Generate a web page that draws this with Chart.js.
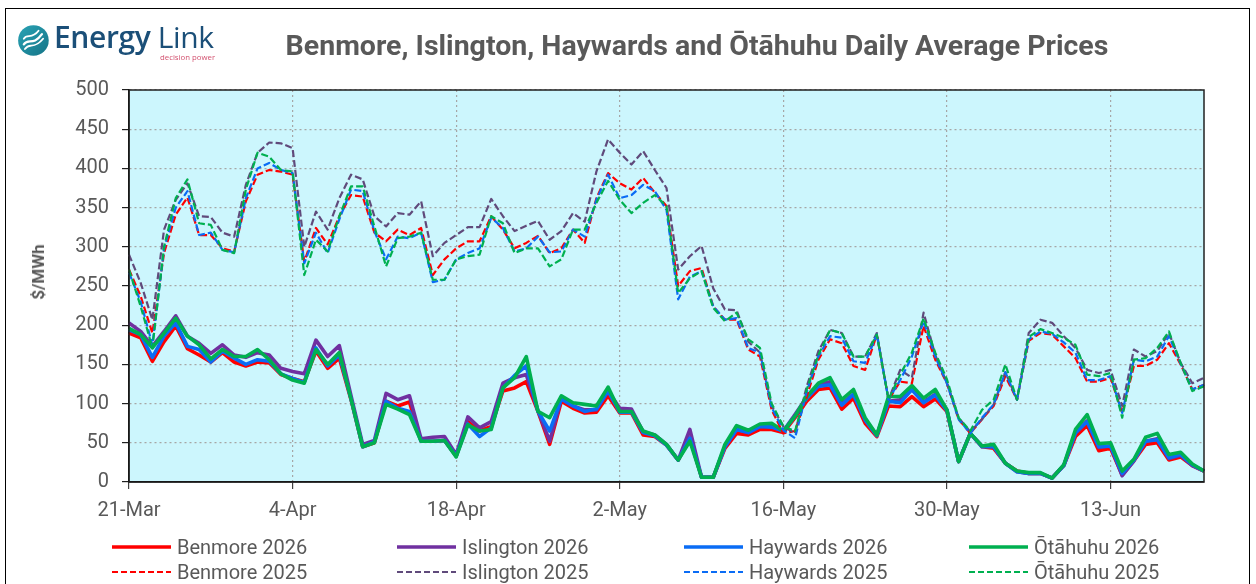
<!DOCTYPE html>
<html>
<head>
<meta charset="utf-8">
<script src="https://cdn.jsdelivr.net/npm/chart.js@4.4.1/dist/chart.umd.min.js"></script>
<style>
  html, body { margin: 0; padding: 0; background: #fff; }
  #wrap { position: relative; width: 1256px; height: 584px; overflow: hidden; font-family: Roboto, "Liberation Sans", sans-serif; }
  #frame { position: absolute; left: 5px; top: 8px; width: 1245px; height: 600px; border: 1.5px solid #000; box-sizing: border-box; }
  canvas { position: absolute; left: 0; top: 0; }
  #title { position: absolute; left: 697px; top: 32px; transform: translateX(-50%); white-space: nowrap;
           font-size: 28.5px; line-height: 28px; font-weight: bold; color: #595959; }
  #ylabel { position: absolute; left: 38px; top: 272px; transform: translate(-50%, -50%) rotate(-90deg);
            font-size: 17px; font-weight: bold; color: #595959; white-space: nowrap; }
  #logo { position: absolute; left: 17px; top: 24px; }
  #logoText { position: absolute; left: 54px; top: 22px; font-family: "Open Sans", sans-serif; font-size: 30px; line-height: 30px;
              color: #1b4f78; white-space: nowrap; letter-spacing: -0.4px; }
  #logoText b { font-weight: 600; }
  #logoSub { position: absolute; left: 160px; top: 52px; font-family: "Open Sans", sans-serif; font-size: 7.8px; color: #d2506e; white-space: nowrap; }
  .leg { position: absolute; height: 24px; display: flex; align-items: center; font-size: 20px; color: #595959; white-space: nowrap; }
  .leg svg { margin-right: 6px; }
</style>
</head>
<body>
<div id="wrap">
  <div id="frame"></div>
  <canvas id="priceChart" width="1256" height="584"></canvas>
  <svg id="logo" width="34" height="34" viewBox="0 0 30 30">
    <defs>
      <linearGradient id="lg" x1="0" y1="0" x2="1" y2="1">
        <stop offset="0" stop-color="#2aa3b5"/>
        <stop offset="1" stop-color="#157487"/>
      </linearGradient>
    </defs>
    <circle cx="14.5" cy="14.5" r="13.5" fill="url(#lg)"/>
    <path d="M6 18 C10 12, 14 20, 22 9" stroke="#fff" stroke-width="2" fill="none" stroke-linecap="round"/>
    <path d="M7 22 C11 16, 15 23, 23 13" stroke="#fff" stroke-width="1.6" fill="none" stroke-linecap="round"/>
    <path d="M6 13 C9 8, 13 14, 19 6" stroke="#fff" stroke-width="1.6" fill="none" stroke-linecap="round"/>
  </svg>
  <div id="logoText"><b>Energy</b> Link</div>
  <div id="logoSub">decision power</div>
  <div id="title">Benmore, Islington, Haywards and Ōtāhuhu Daily Average Prices</div>
  <div id="ylabel">$/MWh</div>
  <div id="legend"></div>
</div>
<script>
// daily average prices, $/MWh, 21-Mar .. 21-Jun
const benmore2026 = [190, 184, 154, 179, 199, 170, 162, 153, 165, 153, 148, 153, 152, 137, 132, 128, 167, 145, 158, 105,
  45, 50, 103, 97, 102, 52, 52, 53, 33, 77, 65, 71, 116, 120, 128, 90, 48, 103, 94, 88,
  89, 110, 88, 88, 60, 58, 47, 28, 56, 6, 6, 43, 62, 60, 67, 67, 63, 82, 103, 118,
  120, 93, 107, 75, 58, 97, 96, 109, 96, 106, 90, 26, 62, 45, 43, 24, 14, 11, 11, 5,
  21, 58, 72, 40, 43, 9, 27, 48, 50, 28, 32, 21, 14];
const islington2026 = [203, 192, 173, 192, 212, 186, 177, 164, 175, 162, 159, 165, 162, 145, 141, 138, 181, 160, 174, 110,
  48, 53, 113, 105, 110, 55, 57, 58, 35, 83, 69, 77, 126, 133, 137, 91, 52, 106, 97, 92,
  92, 116, 94, 93, 64, 60, 48, 28, 67, 6, 6, 45, 67, 63, 71, 71, 65, 86, 108, 124,
  128, 100, 112, 80, 60, 103, 105, 118, 102, 112, 92, 26, 62, 46, 45, 24, 13, 11, 11, 5,
  21, 62, 78, 44, 46, 8, 27, 52, 55, 30, 34, 21, 14];
const haywards2026 = [194, 188, 159, 186, 203, 173, 169, 153, 167, 158, 150, 156, 154, 138, 132, 127, 171, 148, 162, 106,
  45, 51, 103, 94, 90, 52, 52, 53, 33, 74, 58, 69, 120, 136, 148, 90, 65, 106, 97, 90,
  93, 116, 89, 89, 63, 59, 47, 28, 56, 6, 6, 45, 67, 63, 71, 70, 65, 84, 107, 122,
  124, 98, 112, 79, 59, 103, 101, 118, 101, 111, 91, 26, 62, 45, 45, 24, 13, 11, 11, 5,
  21, 63, 77, 45, 46, 11, 28, 52, 54, 31, 35, 22, 14];
const otahuhu2026 = [196, 188, 171, 190, 209, 186, 175, 157, 169, 160, 160, 169, 156, 138, 130, 126, 169, 150, 165, 106,
  45, 50, 99, 93, 86, 52, 52, 53, 32, 73, 65, 67, 120, 133, 160, 90, 82, 110, 101, 99,
  97, 121, 90, 90, 65, 60, 48, 28, 52, 6, 6, 48, 72, 66, 74, 75, 65, 84, 109, 126,
  133, 105, 118, 82, 60, 109, 109, 123, 107, 118, 92, 26, 62, 46, 48, 24, 14, 12, 12, 5,
  22, 67, 86, 49, 50, 14, 29, 57, 62, 35, 38, 23, 14];
const benmore2025 = [271, 237, 190, 292, 341, 363, 315, 315, 298, 294, 358, 392, 398, 396, 392, 281, 324, 303, 339, 366,
  364, 318, 307, 322, 315, 324, 264, 284, 298, 307, 307, 339, 322, 298, 305, 314, 292, 298, 322, 305,
  362, 394, 381, 373, 388, 369, 352, 250, 269, 273, 224, 207, 207, 169, 160, 92, 62, 65, 109, 156,
  182, 177, 148, 143, 188, 105, 128, 126, 199, 156, 126, 80, 62, 80, 97, 135, 105, 180, 190, 188,
  173, 158, 128, 128, 133, 88, 148, 148, 156, 177, 150, 118, 124];
const islington2025 = [290, 254, 207, 322, 360, 381, 339, 338, 318, 313, 379, 420, 433, 432, 426, 300, 345, 322, 362, 392,
  386, 339, 326, 343, 341, 358, 288, 305, 315, 325, 325, 361, 339, 320, 327, 333, 309, 320, 343, 332,
  396, 437, 420, 405, 422, 398, 375, 271, 288, 301, 247, 220, 219, 179, 165, 97, 71, 62, 122, 167,
  194, 190, 160, 160, 190, 105, 143, 133, 216, 162, 126, 82, 64, 80, 99, 140, 105, 190, 207, 203,
  186, 171, 143, 139, 143, 97, 169, 160, 167, 190, 152, 126, 133];
const haywards2025 = [267, 230, 175, 298, 350, 371, 315, 318, 296, 293, 362, 400, 407, 398, 394, 279, 318, 292, 335, 373,
  371, 320, 284, 313, 311, 318, 255, 258, 284, 292, 298, 337, 324, 294, 298, 313, 293, 294, 322, 313,
  360, 392, 362, 366, 379, 371, 347, 233, 262, 269, 224, 207, 209, 171, 165, 95, 66, 56, 115, 160,
  186, 184, 154, 152, 188, 105, 130, 160, 205, 160, 126, 80, 62, 82, 99, 140, 105, 182, 192, 189,
  178, 165, 130, 130, 135, 88, 156, 154, 160, 186, 151, 118, 124];
const otahuhu2025 = [271, 224, 171, 300, 362, 386, 330, 328, 296, 292, 373, 420, 415, 398, 396, 264, 309, 294, 339, 377,
  377, 326, 275, 311, 313, 318, 258, 258, 284, 288, 290, 339, 330, 292, 298, 298, 275, 284, 322, 322,
  356, 384, 360, 343, 356, 366, 352, 241, 260, 269, 222, 205, 216, 182, 171, 100, 71, 65, 118, 162,
  194, 190, 160, 160, 188, 105, 137, 165, 209, 165, 131, 82, 65, 92, 105, 150, 105, 185, 195, 190,
  184, 175, 137, 135, 139, 82, 156, 158, 171, 192, 152, 116, 122];

const tickLabels = ['21-Mar', '4-Apr', '18-Apr', '2-May', '16-May', '30-May', '13-Jun'];
const monthNames = ['Jan', 'Feb', 'Mar', 'Apr', 'May', 'Jun', 'Jul', 'Aug', 'Sep', 'Oct', 'Nov', 'Dec'];
const dayLabels = benmore2026.map((_, i) => {
  const d = new Date(2026, 2, 21 + i);
  return d.getDate() + '-' + monthNames[d.getMonth()];
});

const series = [
  { label: 'Benmore 2026', data: benmore2026, color: '#ff0000', dashed: false },
  { label: 'Islington 2026', data: islington2026, color: '#7030a0', dashed: false },
  { label: 'Haywards 2026', data: haywards2026, color: '#0a6cf5', dashed: false },
  { label: 'Ōtāhuhu 2026', data: otahuhu2026, color: '#00b050', dashed: false },
  { label: 'Benmore 2025', data: benmore2025, color: '#ff0000', dashed: true },
  { label: 'Islington 2025', data: islington2025, color: '#604a7b', dashed: true },
  { label: 'Haywards 2025', data: haywards2025, color: '#0a6cf5', dashed: true },
  { label: 'Ōtāhuhu 2025', data: otahuhu2025, color: '#00b050', dashed: true }
];

const isTick = i => tickLabels.includes(dayLabels[i]);

const plotFrame = {
  id: 'plotFrame',
  beforeDraw(chart) {
    const { ctx, chartArea: a } = chart;
    ctx.save();
    ctx.fillStyle = '#ccf6fd';
    ctx.fillRect(a.left, a.top, a.width, a.height);
    ctx.restore();
  },
  afterDatasetsDraw(chart) {
    const { ctx, chartArea: a } = chart;
    ctx.save();
    ctx.strokeStyle = '#202020';
    ctx.lineWidth = 1.5;
    ctx.strokeRect(a.left, a.top, a.width, a.height);
    ctx.restore();
  }
};

new Chart(document.getElementById('priceChart').getContext('2d'), {
  type: 'line',
  data: {
    labels: dayLabels,
    datasets: series.map((s, i) => ({
      label: s.label,
      data: s.data,
      borderColor: s.color,
      backgroundColor: s.color,
      borderWidth: s.dashed ? 2.2 : 3.6,
      borderDash: s.dashed ? [7, 3] : [],
      borderJoinStyle: 'round',
      pointRadius: 0,
      tension: 0,
      fill: false,
      order: series.length - i
    }))
  },
  options: {
    responsive: false,
    animation: false,
    layout: { padding: { top: 90, right: 52, bottom: 0, left: 0 } },
    plugins: { legend: { display: false }, title: { display: false }, tooltip: { enabled: false } },
    scales: {
      x: {
        afterFit: s => { s.height = 102; },
        grid: {
          color: c => isTick(c.index) ? '#a6a6a6' : 'transparent',
          tickColor: c => isTick(c.index) ? '#404040' : 'transparent',
          tickLength: 7,
          lineWidth: 1.2
        },
        border: { color: '#000', width: 1.5, dash: [2, 3] },
        ticks: {
          autoSkip: false,
          maxRotation: 0,
          padding: 10,
          color: '#595959',
          font: { family: 'Roboto', size: 20 },
          callback: (v, i) => isTick(i) ? dayLabels[i] : ''
        }
      },
      y: {
        min: 0,
        max: 500,
        afterFit: s => { s.width = 129; },
        grid: { color: '#a6a6a6', tickColor: '#202020', tickLength: 7, lineWidth: 1.2 },
        border: { color: '#000', width: 1.5, dash: [2, 3] },
        ticks: {
          stepSize: 50,
          padding: 13,
          color: '#595959',
          font: { family: 'Roboto', size: 20 }
        }
      }
    }
  },
  plugins: [plotFrame]
});

// legend: two rows of four, 2026 on top
const legendCols = [112, 397, 684, 969];
const legendRows = [547, 572];
const legendBox = document.getElementById('legend');
series.forEach((s, i) => {
  const el = document.createElement('div');
  el.className = 'leg';
  el.style.left = legendCols[i % 4] + 'px';
  el.style.top = (legendRows[Math.floor(i / 4)] - 12) + 'px';
  el.innerHTML = '<svg width="59" height="8"><line x1="0" y1="4" x2="59" y2="4" stroke="' + s.color +
    '" stroke-width="' + (s.dashed ? 2 : 3.6) + '"' + (s.dashed ? ' stroke-dasharray="6 3"' : '') + '/></svg>' +
    '<span>' + s.label + '</span>';
  legendBox.appendChild(el);
});
</script>
</body>
</html>
